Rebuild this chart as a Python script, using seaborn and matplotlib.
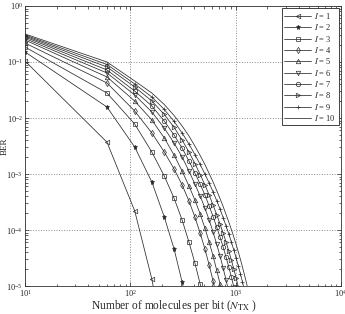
import matplotlib
matplotlib.use("Agg")
import matplotlib.pyplot as plt
import matplotlib.ticker as mticker
import seaborn as sns

# N values (molecules per bit), step of 50 starting at 10
n_tx = [10, 60, 110, 160, 210, 260, 310, 360, 410, 460, 510, 560, 610, 660,
        710, 760, 810, 860, 910, 960, 1010, 1060, 1110, 1160, 1210, 1260, 1310]

# BER, one list per I (curves run below 1e-5 and get clipped)
ber_i1 = [0.104, 3.7e-3, 2.2e-4, 1.33e-5, 8.1e-7]
ber_i2 = [0.151, 0.0157, 3.03e-3, 7.2e-4, 1.71e-4, 4.6e-5, 1.18e-5, 3.0e-6]
ber_i3 = [0.185, 0.0279, 7.8e-3, 2.47e-3, 9.2e-4, 3.7e-4, 1.51e-4, 6.1e-5,
          2.58e-5, 1.09e-5, 4.6e-6]
ber_i4 = [0.218, 0.0422, 0.0133, 5.4e-3, 2.47e-3, 1.23e-3, 6.4e-4, 3.3e-4,
          1.71e-4, 8.8e-5, 4.6e-5, 2.37e-5, 1.23e-5, 6.4e-6]
ber_i5 = [0.247, 0.054, 0.0201, 9.2e-3, 4.4e-3, 2.18e-3, 1.13e-3, 6.1e-4,
          3.43e-4, 1.93e-4, 1.09e-4, 6.1e-5, 3.43e-5, 1.93e-5, 1.09e-5, 6.1e-6]
ber_i6 = [0.263, 0.0637, 0.0258, 0.0128, 6.6e-3, 3.58e-3, 2.01e-3, 1.13e-3,
          6.6e-4, 4.05e-4, 2.47e-4, 1.51e-4, 9.2e-5, 5.6e-5, 3.43e-5, 2.1e-5,
          1.28e-5, 7.8e-6]
ber_i7 = [0.279, 0.072, 0.0303, 0.0164, 8.8e-3, 4.97e-3, 2.91e-3, 1.71e-3,
          1.04e-3, 6.6e-4, 4.22e-4, 2.68e-4, 1.74e-4, 1.13e-4, 7.5e-5, 4.97e-5,
          3.3e-5, 2.18e-5, 1.45e-5, 9.6e-6]
ber_i8 = [0.291, 0.0814, 0.0358, 0.0201, 0.01155, 6.8e-3, 4.05e-3, 2.47e-3,
          1.54e-3, 9.8e-4, 6.4e-4, 4.22e-4, 2.79e-4, 1.89e-4, 1.28e-4, 8.8e-5,
          6.1e-5, 4.22e-5, 2.91e-5, 2.01e-5, 1.39e-5, 9.6e-6]
ber_i9 = [0.303, 0.0902, 0.0405, 0.0237, 0.0142, 8.7e-3, 5.4e-3, 3.43e-3,
          2.23e-3, 1.48e-3, 1.0e-3, 6.9e-4, 4.77e-4, 3.36e-4, 2.37e-4, 1.67e-4,
          1.18e-4, 8.5e-5, 6.1e-5, 4.4e-5, 3.16e-5, 2.28e-5, 1.64e-5, 1.18e-5,
          8.5e-6]
ber_i10 = [0.316, 0.1, 0.0458, 0.0279, 0.0174, 0.0111, 7.2e-3, 4.77e-3,
           3.16e-3, 2.14e-3, 1.48e-3, 1.02e-3, 7.2e-4, 5.07e-4, 3.65e-4, 2.63e-4,
           1.89e-4, 1.39e-4, 1.02e-4, 7.5e-5, 5.5e-5, 4.05e-5, 2.97e-5, 2.18e-5,
           1.6e-5, 1.18e-5, 8.7e-6]

curves = [ber_i1, ber_i2, ber_i3, ber_i4, ber_i5,
          ber_i6, ber_i7, ber_i8, ber_i9, ber_i10]
labels = [f"$I$ = {k}" for k in range(1, 11)]
markers = ['<', '*', 's', 'd', '^', 'v', 'o', '>', '+', None]

sns.set_theme(style='ticks')
plt.rcParams['font.family'] = ['Liberation Serif', 'DejaVu Serif']
plt.rcParams['mathtext.fontset'] = 'stix'

fig = plt.figure(figsize=(3.45, 3.14), dpi=100)
ax = fig.add_axes([0.0725, 0.089, 0.916, 0.892])

line_col = '#2a2a2a'
for ber, lab, mk in zip(curves, labels, markers):
    face = line_col if mk == '*' else 'none'
    sns.lineplot(x=n_tx[:len(ber)], y=ber, ax=ax, color=line_col,
                 linewidth=0.55, marker=mk, markersize=3.2 if mk != '*' else 3.6,
                 markerfacecolor=face, markeredgecolor=line_col,
                 markeredgewidth=0.5, label=lab, sort=False)

ax.set_xscale('log')
ax.set_yscale('log')
ax.set_xlim(10, 1e4)
ax.set_ylim(1e-5, 1)
ax.xaxis.set_minor_locator(mticker.LogLocator(base=10, subs=range(2, 10)))
ax.yaxis.set_minor_locator(mticker.LogLocator(base=10, subs=range(2, 10)))
ax.grid(True, which='major', linestyle=':', color='#8a8a8a', linewidth=0.7)

ax.tick_params(which='both', direction='in', top=True, right=True,
               labelsize=6, width=0.5, pad=1.5)
ax.tick_params(which='major', length=3)
ax.tick_params(which='minor', length=1.8)
for sp in ax.spines.values():
    sp.set_linewidth(0.6)
    sp.set_color('#333333')

ax.set_xlabel(r'Number of molecules per bit ($N_{\mathrm{TX}}$ )', fontsize=8.3)
ax.xaxis.set_label_coords(0.47, -0.043)
ax.set_ylabel('BER', fontsize=6.5)
ax.yaxis.set_label_coords(-0.05, 0.5)

leg = ax.legend(loc='upper right', fontsize=6, frameon=True, fancybox=False,
                edgecolor='#222222', framealpha=1, handlelength=3.2,
                borderaxespad=0.3, labelspacing=0.16, borderpad=0.3,
                handletextpad=0.4)
leg.get_frame().set_linewidth(0.6)

fig.savefig('out.png', dpi=100)
